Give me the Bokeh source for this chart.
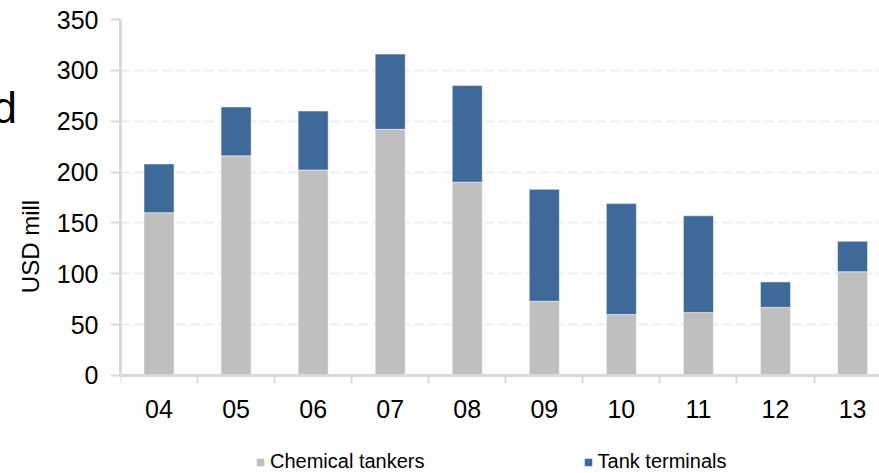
from bokeh.plotting import figure
from bokeh.models import (ColumnDataSource, Range1d, FixedTicker, Legend, LegendItem, Label)
from bokeh.embed import file_html
from bokeh.resources import INLINE

# Investment per year, USD mill
years = ["04", "05", "06", "07", "08", "09", "10", "11", "12", "13"]
chemical_tankers = [160, 216, 202, 242, 190, 73, 60, 62, 67, 102]
tank_terminals = [48, 48, 58, 74, 95, 110, 109, 95, 25, 30]
y_ticks = [0, 50, 100, 150, 200, 250, 300, 350]

GRAY = "#bfbfbf"
BLUE = "#3f6999"
AXIS = "#d9d9d9"
FONT = "Liberation Sans"

x = list(range(len(years)))
tops = [c + t for c, t in zip(chemical_tankers, tank_terminals)]
src = ColumnDataSource(dict(x=x, chem=chemical_tankers, term=tank_terminals, top=tops,
                            zero=[0] * len(x)))

# the frame runs down to the page bottom so the legend can sit under the category labels
p = figure(frame_width=759, frame_height=454, output_backend="svg", toolbar_location=None,
           x_range=Range1d(-0.5, 9.35), y_range=Range1d(-96.35, 350),
           min_border_left=120, min_border_right=0, min_border_top=19, min_border_bottom=0)
p.outline_line_color = None
p.background_fill_color = "white"
p.border_fill_color = "white"

bw = 0.39
r1 = p.vbar(x="x", bottom="zero", top="chem", width=bw, source=src,
            fill_color=GRAY, line_color="white", line_alpha=0.5, line_width=1)
r2 = p.vbar(x="x", bottom="chem", top="top", width=bw, source=src,
            fill_color=BLUE, line_color="white", line_alpha=0.5, line_width=1)

# y axis
yax = p.yaxis[0]
yax.ticker = FixedTicker(ticks=y_ticks)
yax.bounds = (0, 350)
yax.axis_line_color = AXIS
yax.axis_line_width = 3
yax.major_tick_line_color = AXIS
yax.major_tick_line_width = 2
yax.major_tick_out = 10
yax.major_tick_in = 0
yax.minor_tick_line_color = None
yax.major_label_text_font = FONT
yax.major_label_text_font_size = "25px"
yax.major_label_text_color = "black"
yax.major_label_standoff = 12
yax.axis_label = "USD mill"
yax.axis_label_text_font = FONT
yax.axis_label_text_font_size = "24px"
yax.axis_label_text_font_style = "normal"
yax.axis_label_text_color = "black"
yax.axis_label_standoff = 10

# x axis sits on y = 0: labels under bar centres, ticks on category boundaries
xax = p.xaxis[0]
xax.fixed_location = 0
xax.ticker = FixedTicker(ticks=x, minor_ticks=[i - 0.5 for i in range(len(years) + 1)])
xax.major_label_overrides = {i: y for i, y in enumerate(years)}
xax.axis_line_color = AXIS
xax.axis_line_width = 3
xax.major_tick_line_color = None
xax.major_tick_out = 0
xax.major_tick_in = 0
xax.minor_tick_line_color = AXIS
xax.minor_tick_line_width = 2
xax.minor_tick_out = 8
xax.minor_tick_in = 0
xax.major_label_text_font = FONT
xax.major_label_text_font_size = "25px"
xax.major_label_text_color = "black"
xax.major_label_standoff = 17

p.xgrid.grid_line_color = None
p.ygrid.grid_line_color = "#ebebeb"
p.ygrid.grid_line_width = 2
p.ygrid.grid_line_dash = "9 5"

legend = Legend(items=[LegendItem(label="Chemical tankers", renderers=[r1]),
                       LegendItem(label="Tank terminals", renderers=[r2])],
                orientation="horizontal", location=(135, 0),
                glyph_width=10, glyph_height=10, label_standoff=5, spacing=158,
                label_text_font=FONT, label_text_font_size="20px",
                label_text_color="black", border_line_color=None,
                background_fill_alpha=0, padding=0, margin=0)
p.add_layout(legend)

# last letter of the slide heading, running in from the left edge
p.add_layout(Label(x=-887, y=341.6, x_units="screen", y_units="screen", text="d",
                   text_font=FONT, text_font_size="44px", text_color="black"), "right")

open("out.html", "w").write(file_html(p, INLINE))
